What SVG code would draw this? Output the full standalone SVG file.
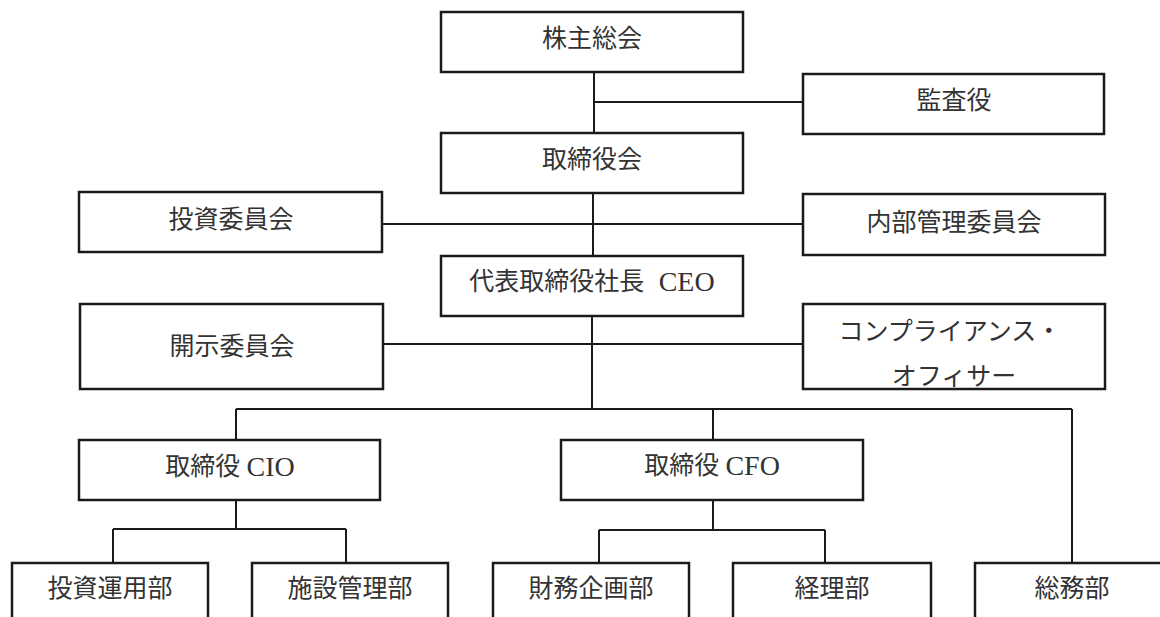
<svg xmlns="http://www.w3.org/2000/svg" width="1160" height="617" viewBox="0 0 1160 617">
<style>
.box{fill:#fff;stroke:#1a1a1a;stroke-width:2.5}
.ln{fill:none;stroke:#1a1a1a;stroke-width:2}
.t{font-family:"Liberation Serif","Noto Sans CJK JP",serif;font-size:25px;fill:#333;text-anchor:middle;dominant-baseline:central}
.lat{font-size:28px}
</style>
<rect width="1160" height="617" fill="#fff"/>
<g id="connectors">
<path class="ln" d="M594 72V133M594 102H803"/>
<path class="ln" d="M593 193V256M382 224H803"/>
<path class="ln" d="M592 316V409M383 344H803"/>
<path class="ln" d="M236 409H1072M236 409V440M713 409V440M1072 409V563"/>
<path class="ln" d="M236 500V529M113 529H346M113 529V563M346 529V563"/>
<path class="ln" d="M713 500V530M599 530H825M599 530V563M825 530V563"/>
</g>
<g id="n-kabunushi"><rect class="box" x="441" y="12" width="302" height="60"/><text class="t" x="592" y="38">株主総会</text></g>
<g id="n-kansayaku"><rect class="box" x="803" y="74" width="301" height="60"/><text class="t" x="954" y="100">監査役</text></g>
<g id="n-torishimariyakukai"><rect class="box" x="441" y="133" width="302" height="60"/><text class="t" x="592" y="159">取締役会</text></g>
<g id="n-toushi-iinkai"><rect class="box" x="79" y="192" width="303" height="60"/><text class="t" x="231" y="219">投資委員会</text></g>
<g id="n-naibu-kanri"><rect class="box" x="803" y="194" width="302" height="61"/><text class="t" x="954" y="222">内部管理委員会</text></g>
<g id="n-ceo"><rect class="box" x="441" y="256" width="302" height="60"/><text class="t" x="592" y="281">代表取締役社長 <tspan class="lat" dx="8">CEO</tspan></text></g>
<g id="n-kaiji"><rect class="box" x="80" y="304" width="303" height="85"/><text class="t" x="232" y="346">開示委員会</text></g>
<g id="n-compliance"><rect class="box" x="803" y="304" width="302" height="85"/><text class="t" x="950" y="331">コンプライアンス・</text><text class="t" x="954" y="376">オフィサー</text></g>
<g id="n-cio"><rect class="box" x="79" y="440" width="301" height="60"/><text class="t" x="230" y="466">取締役 <tspan class="lat">CIO</tspan></text></g>
<g id="n-cfo"><rect class="box" x="561" y="440" width="302" height="60"/><text class="t" x="712" y="465">取締役 <tspan class="lat">CFO</tspan></text></g>
<g id="n-toushi-unyo"><rect class="box" x="12" y="563" width="196" height="70"/><text class="t" x="110" y="588">投資運用部</text></g>
<g id="n-shisetsu"><rect class="box" x="252" y="563" width="196" height="70"/><text class="t" x="350" y="588">施設管理部</text></g>
<g id="n-zaimu"><rect class="box" x="493" y="563" width="196" height="70"/><text class="t" x="591" y="588">財務企画部</text></g>
<g id="n-keiri"><rect class="box" x="733" y="563" width="198" height="70"/><text class="t" x="832" y="588">経理部</text></g>
<g id="n-soumu"><rect class="box" x="975" y="563" width="200" height="70"/><text class="t" x="1072" y="588">総務部</text></g>
</svg>
